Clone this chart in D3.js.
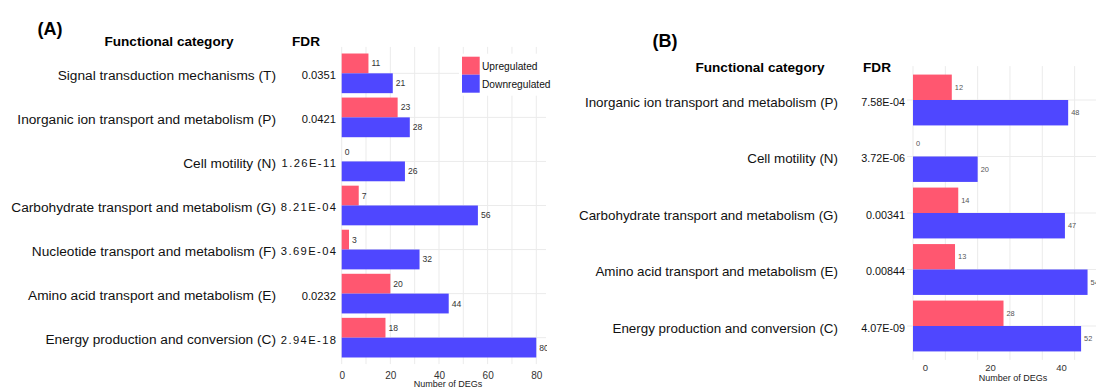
<!DOCTYPE html>
<html>
<head>
<meta charset="utf-8">
<script src="https://cdn.jsdelivr.net/npm/d3@7"></script>
<style>
  html, body { margin: 0; padding: 0; background: #fff; }
  svg { display: block; font-family: "Liberation Sans", Arial, Helvetica, sans-serif; }
</style>
</head>
<body>
<svg id="chart" width="1096" height="389"></svg>
<script>
// ---- Panel A: functional categories, FDR and DEG counts ----
const categoriesA = [
  "Signal transduction mechanisms (T)",
  "Inorganic ion transport and metabolism (P)",
  "Cell motility (N)",
  "Carbohydrate transport and metabolism (G)",
  "Nucleotide transport and metabolism (F)",
  "Amino acid transport and metabolism (E)",
  "Energy production and conversion (C)"
];
const fdrA = ["0.0351", "0.0421", "1.26E-11", "8.21E-04", "3.69E-04", "0.0232", "2.94E-18"];
const upA = [11, 23, 0, 7, 3, 20, 18];
const downA = [21, 28, 26, 56, 32, 44, 80];
const ticksA = [0, 20, 40, 60, 80];

// ---- Panel B ----
const categoriesB = [
  "Inorganic ion transport and metabolism (P)",
  "Cell motility (N)",
  "Carbohydrate transport and metabolism (G)",
  "Amino acid transport and metabolism (E)",
  "Energy production and conversion (C)"
];
const fdrB = ["7.58E-04", "3.72E-06", "0.00341", "0.00844", "4.07E-09"];
const upB = [12, 0, 14, 13, 28];
const downB = [48, 20, 47, 54, 52];
const ticksB = [0, 20, 40];

const seriesNames = ["Upregulated", "Downregulated"];
const seriesColors = ["#FF5770", "#4F47FF"];

const svg = d3.select("#chart");
const defs = svg.append("defs");
const color = d3.scaleOrdinal().domain(seriesNames).range(seriesColors);

function drawPanel(cfg) {
  const g = svg.append("g");
  const clipId = "clip-" + cfg.id;
  // clip in page coordinates so value labels stop at the panel edge
  defs.append("clipPath").attr("id", clipId)
    .append("rect").attr("x", 0).attr("y", 0).attr("width", cfg.clipRight).attr("height", 389);

  const x = d3.scaleLinear().domain([0, cfg.xMax]).range([cfg.x0, cfg.xEnd]);
  const y = d3.scalePoint().domain(cfg.categories).range([cfg.yTop, cfg.yBot]).padding(0.6);
  const dodge = 0.9 * y.step();
  const inner = d3.scaleBand().domain(seriesNames).range([-dodge / 2, dodge / 2]);

  // grid
  const grid = g.append("g").attr("stroke", "#ebebeb").attr("stroke-width", 1);
  grid.selectAll("line.v").data(d3.range(0, cfg.gridMax + 1, 10)).join("line")
    .attr("x1", d => x(d)).attr("x2", d => x(d))
    .attr("y1", cfg.yTop).attr("y2", cfg.yBot);
  grid.selectAll("line.h").data(cfg.categories).join("line")
    .attr("x1", cfg.hLeft).attr("x2", cfg.xEnd)
    .attr("y1", d => y(d)).attr("y2", d => y(d));

  // bars
  const marks = [];
  cfg.categories.forEach((c, i) => {
    marks.push({ cat: c, s: seriesNames[0], v: cfg.up[i] });
    marks.push({ cat: c, s: seriesNames[1], v: cfg.down[i] });
  });
  const barY = d => y(d.cat) + inner(d.s);
  g.append("g").selectAll("rect").data(marks).join("rect")
    .attr("x", x(0))
    .attr("y", barY)
    .attr("width", d => x(d.v) - x(0))
    .attr("height", inner.bandwidth())
    .attr("fill", d => color(d.s));
  g.append("g").attr("clip-path", `url(#${clipId})`)
    .selectAll("text").data(marks).join("text")
    .attr("x", d => x(d.v) + 3)
    .attr("y", d => barY(d) + inner.bandwidth() / 2)
    .attr("dy", "0.35em")
    .attr("font-size", cfg.valFont)
    .attr("fill", cfg.valColor)
    .text(d => d.v);

  // category and FDR labels
  g.append("g").selectAll("text").data(cfg.categories).join("text")
    .attr("x", cfg.catRight).attr("y", d => y(d) + 2).attr("dy", "0.35em")
    .attr("text-anchor", "end").attr("font-size", cfg.catFont).attr("fill", "#111")
    .text(d => d);
  const wide = d => cfg.eSpacing > 0 && d.includes("E");
  g.append("g").selectAll("text").data(cfg.fdr).join("text")
    .attr("x", d => cfg.fdrRight + (wide(d) ? cfg.eSpacing : 0))
    .attr("y", (d, i) => y(cfg.categories[i]) + 2).attr("dy", "0.35em")
    .attr("text-anchor", "end").attr("font-size", cfg.fdrFont).attr("fill", "#111")
    .attr("letter-spacing", d => wide(d) ? cfg.eSpacing : 0)
    .text(d => d);

  // headers
  g.append("text").attr("x", cfg.tagX).attr("y", cfg.tagY).attr("dy", "0.35em")
    .attr("text-anchor", "middle").attr("font-weight", "bold").attr("font-size", 18)
    .text(cfg.tag);
  g.append("text").attr("x", cfg.headCatX).attr("y", cfg.headY).attr("dy", "0.35em")
    .attr("text-anchor", "middle").attr("font-weight", "bold").attr("font-size", 13.6)
    .text("Functional category");
  g.append("text").attr("x", cfg.headFdrX).attr("y", cfg.headY).attr("dy", "0.35em")
    .attr("text-anchor", "middle").attr("font-weight", "bold").attr("font-size", 13.6)
    .text("FDR");

  // bottom axis
  const tickScale = cfg.tickRange
    ? d3.scaleLinear().domain(cfg.ticks).range(cfg.tickRange)
    : x;
  const axis = g.append("g").attr("transform", `translate(0,${cfg.yBot})`)
    .call(d3.axisBottom(tickScale).tickValues(cfg.ticks).tickSize(0).tickPadding(cfg.tickPad));
  axis.select(".domain").remove();
  axis.selectAll("text").attr("font-size", cfg.tickFont).attr("fill", "#333")
    .attr("font-family", "inherit");
  g.append("text").attr("x", cfg.titleX).attr("y", cfg.titleY).attr("dy", "0.35em")
    .attr("text-anchor", "middle").attr("font-size", 9).attr("fill", "#222")
    .text("Number of DEGs");

  // legend
  if (cfg.legend) {
    const lg = g.append("g").attr("transform", `translate(${cfg.legend.x},${cfg.legend.y})`);
    lg.append("rect").attr("x", -3).attr("y", -3).attr("width", 96).attr("height", 42).attr("fill", "#fff");
    const item = lg.selectAll("g").data(seriesNames).join("g")
      .attr("transform", (d, i) => `translate(0,${i * 18})`);
    item.append("rect").attr("width", 17.7).attr("height", 18).attr("fill", d => color(d));
    item.append("text").attr("x", 20).attr("y", 9.5).attr("dy", "0.35em")
      .attr("font-size", 10.2).attr("fill", "#111").text(d => d);
  }
}

drawPanel({
  id: "a", tag: "(A)", tagX: 50, tagY: 28.5, headY: 41, headCatX: 169, headFdrX: 306,
  categories: categoriesA, fdr: fdrA, up: upA, down: downA,
  catRight: 276, fdrRight: 336, catFont: 13.7, fdrFont: 11.2, eSpacing: 1.4,
  x0: 341.7, xEnd: 546, xMax: 84, gridMax: 80, hLeft: 341.7, clipRight: 547,
  yTop: 46.9, yBot: 364.1, valFont: 8.6, valColor: "#333",
  ticks: ticksA, tickFont: 10, tickPad: 7.5, titleX: 448, titleY: 384.3,
  legend: { x: 462, y: 56.7 }
});

drawPanel({
  id: "b", tag: "(B)", tagX: 665, tagY: 41, headY: 67.5, headCatX: 760, headFdrX: 877,
  categories: categoriesB, fdr: fdrB, up: upB, down: downB,
  catRight: 838, fdrRight: 905, catFont: 13.4, fdrFont: 10.8, eSpacing: 0,
  x0: 913, xEnd: 1116, xMax: 62.8, gridMax: 60, hLeft: 907, clipRight: 1200,
  yTop: 66.1, yBot: 359.9, valFont: 7.4, valColor: "#555",
  ticks: ticksB, tickRange: [925, 990, 1061], tickFont: 9.5, tickPad: 4.8,
  titleX: 1013, titleY: 377.7, legend: null
});
</script>
</body>
</html>
